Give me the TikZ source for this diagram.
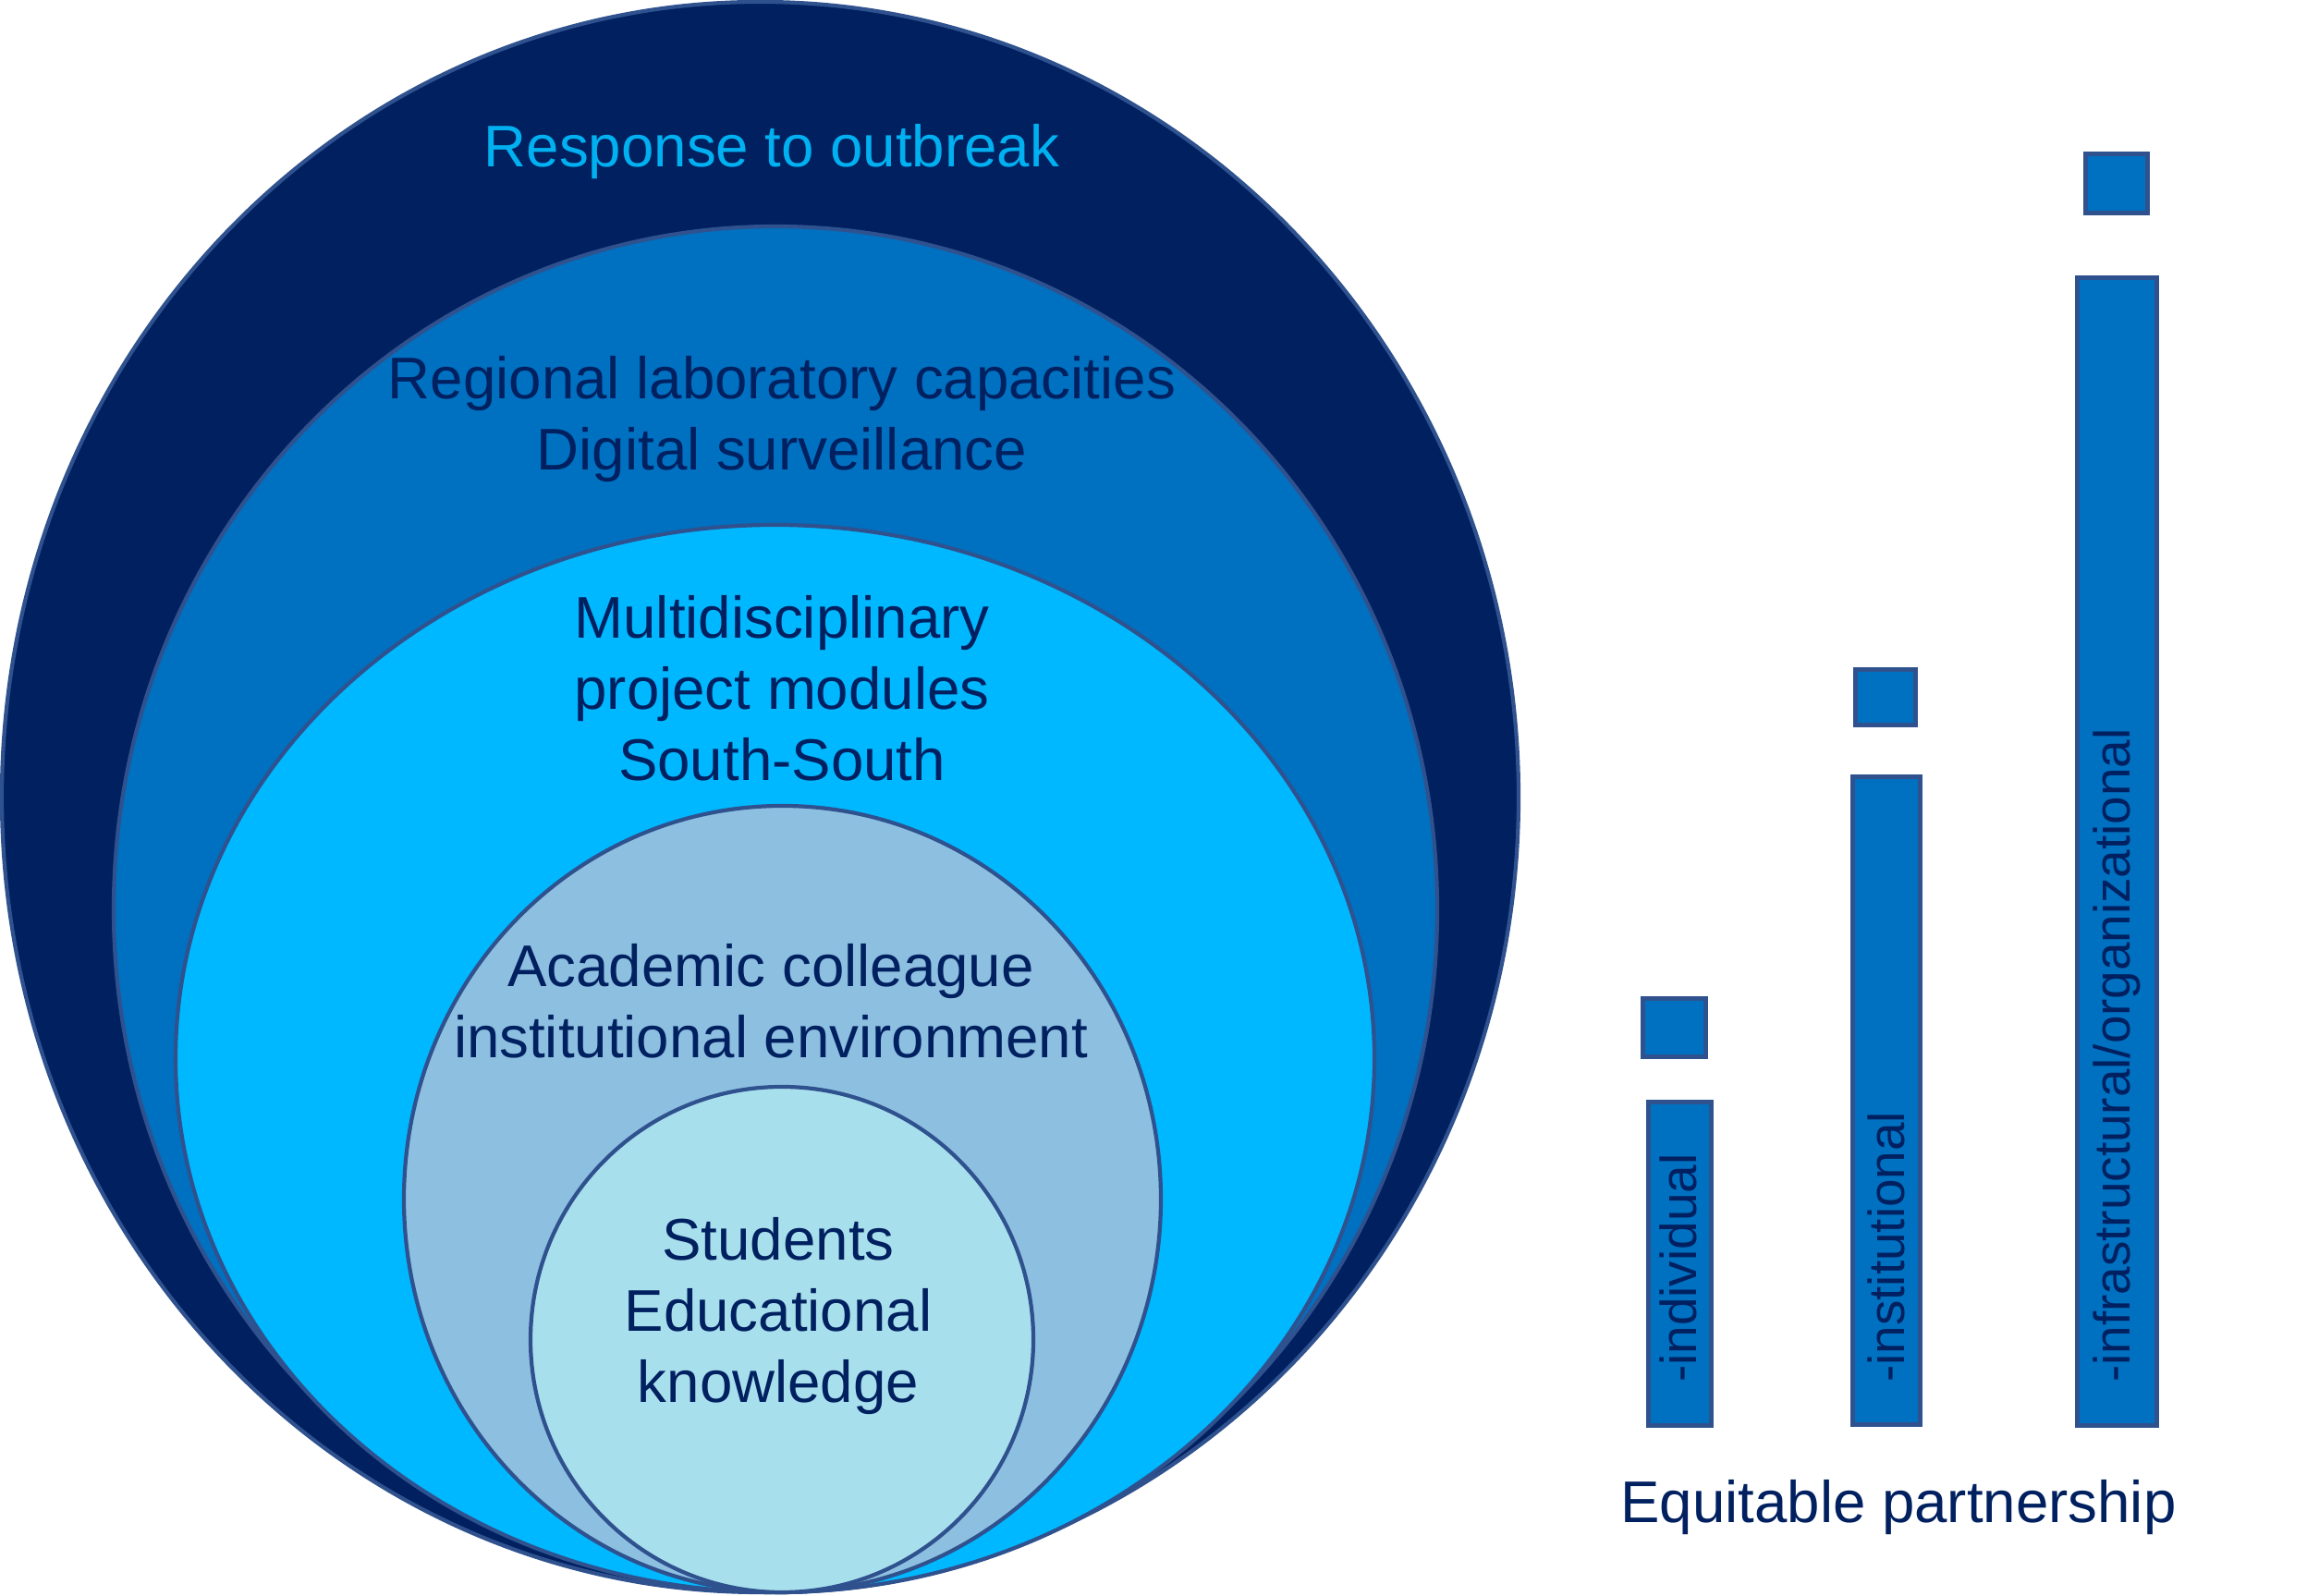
\documentclass[tikz,border=0pt]{standalone}
\usepackage{fontspec}
\setmainfont{Liberation Sans}
\usepackage{xcolor}
\usepackage{tikz}
\usetikzlibrary{positioning,shapes.geometric}
\definecolor{navy}{HTML}{002060}
\definecolor{midblue}{HTML}{0070C0}
\definecolor{skyblue}{HTML}{00B8FF}
\definecolor{greyblue}{HTML}{8DBFE0}
\definecolor{paleblue}{HTML}{A8DFEC}
\definecolor{edge}{HTML}{2F528F}
\definecolor{outbreak}{HTML}{00B0F0}

\begin{document}
\begin{tikzpicture}[
  every node/.style={font=\fontsize{18.1}{21.9}\selectfont,text=navy},
  ring/.style={ellipse,draw=edge,line width=1.2pt,inner sep=0pt},
  bar/.style={rectangle,draw=edge,line width=1.4pt,fill=midblue,inner sep=0pt},
  lbl/.style={align=center},
  tag/.style={rotate=90,anchor=west,font=\fontsize{15.6}{18}\selectfont}
]
  \useasboundingbox (0,0) rectangle (25.09,17.27);

  % nested circles
  \node[ring,fill=navy,minimum width=16.41cm,minimum height=17.21cm] (outer) at (8.225,8.645) {};
  \node[ring,fill=midblue,minimum width=14.32cm,minimum height=14.78cm] (region) at (8.39,7.43) {};
  \node[ring,fill=skyblue,minimum width=12.97cm,minimum height=11.55cm] (multi) at (8.385,5.815) {};
  \node[ring,fill=greyblue,minimum width=8.19cm,minimum height=8.51cm] (acad) at (8.465,4.295) {};
  \node[ring,fill=paleblue,minimum width=5.44cm,minimum height=5.47cm] (stud) at (8.46,2.775) {};

  \node[anchor=base,text=outbreak] (outerlbl) at (8.35,15.46) {Response to outbreak};
  \node[lbl] (regionlbl) at (8.46,12.73) {Regional laboratory capacities\\ Digital surveillance};
  \node[lbl] (multilbl) at (8.46,9.82) {Multidisciplinary\\ project modules\\ South-South};
  \node[lbl] (acadlbl) at (8.34,6.44) {Academic colleague\\ institutional environment};
  \node[lbl] (studlbl) at (8.42,3.03) {Students\\ Educational\\ knowledge};

  % partnership bars
  \node[bar,minimum width=0.68cm,minimum height=0.63cm] (dotA) at (18.115,6.15) {};
  \node[bar,minimum width=0.68cm,minimum height=3.50cm] (barA) at (18.175,3.595) {};
  \node[bar,minimum width=0.65cm,minimum height=0.60cm] (dotB) at (20.40,9.725) {};
  \node[bar,minimum width=0.73cm,minimum height=7.01cm] (barB) at (20.41,5.36) {};
  \node[bar,minimum width=0.67cm,minimum height=0.64cm] (dotC) at (22.90,15.285) {};
  \node[bar,minimum width=0.86cm,minimum height=12.42cm] (barC) at (22.905,8.055) {};

  \node[tag] (tagA) at (18.16,2.19) {-individual};
  \node[tag] (tagB) at (20.41,2.19) {-institutional};
  \node[tag] (tagC) at (22.905,2.19) {-infrastructural/organizational};

  \node[anchor=base] (partner) at (20.54,0.79) {Equitable partnership};
\end{tikzpicture}
\end{document}
